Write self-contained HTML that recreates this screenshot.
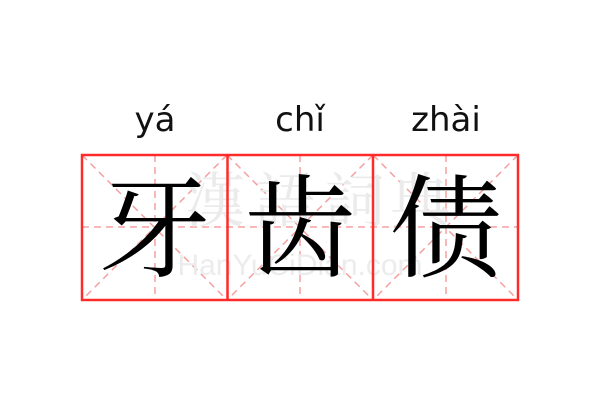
<!DOCTYPE html>
<html><head><meta charset="utf-8"><style>
html,body{margin:0;padding:0;background:#fff;}
svg{display:block}
</style></head><body>
<svg width="600" height="400" viewBox="0 0 600 400" xmlns="http://www.w3.org/2000/svg">
<rect width="600" height="400" fill="#fff"/>
<g font-family="DejaVu Sans, Liberation Sans, sans-serif" font-size="34" fill="#111" text-anchor="middle">
<text x="155" y="131">yá</text>
<text x="300" y="131">chǐ</text>
<text x="446" y="131">zhài</text>
</g>
<g stroke="#f5a0a0" stroke-width="1.5" stroke-dasharray="7,5" fill="none">
<line x1="82" y1="227" x2="518" y2="227"/>
<line x1="155" y1="155" x2="155" y2="300"/>
<line x1="300" y1="155" x2="300" y2="300"/>
<line x1="446" y1="155" x2="446" y2="300"/>
<line x1="82" y1="155" x2="227" y2="300"/>
<line x1="227" y1="155" x2="82" y2="300"/>
<line x1="227" y1="155" x2="373" y2="300"/>
<line x1="373" y1="155" x2="227" y2="300"/>
<line x1="373" y1="155" x2="518" y2="300"/>
<line x1="518" y1="155" x2="373" y2="300"/>
</g>
<g font-family="Noto Serif CJK SC, serif" font-size="60" fill="#ebebeb" text-anchor="middle">
<text x="215" y="222">漢</text><text x="285" y="222">語</text><text x="355" y="222">詞</text><text x="420" y="222">典</text>
</g>
<text x="300" y="275" font-family="Liberation Sans, sans-serif" font-size="30" fill="#ececec" text-anchor="middle">HanYuCiDian.com</text>
<g font-family="Liberation Serif, Noto Serif CJK SC, serif" font-size="112" fill="#000" text-anchor="middle">
<text x="155" y="268">牙</text>
<text x="300" y="268">齿</text>
<text x="446" y="268">债</text>
</g>
<g stroke="#ff2a2a" stroke-width="2.5" fill="none">
<rect x="82" y="155" width="436" height="145"/>
<line x1="227.5" y1="155" x2="227.5" y2="300"/>
<line x1="373" y1="155" x2="373" y2="300"/>
</g>
</svg>
</body></html>
